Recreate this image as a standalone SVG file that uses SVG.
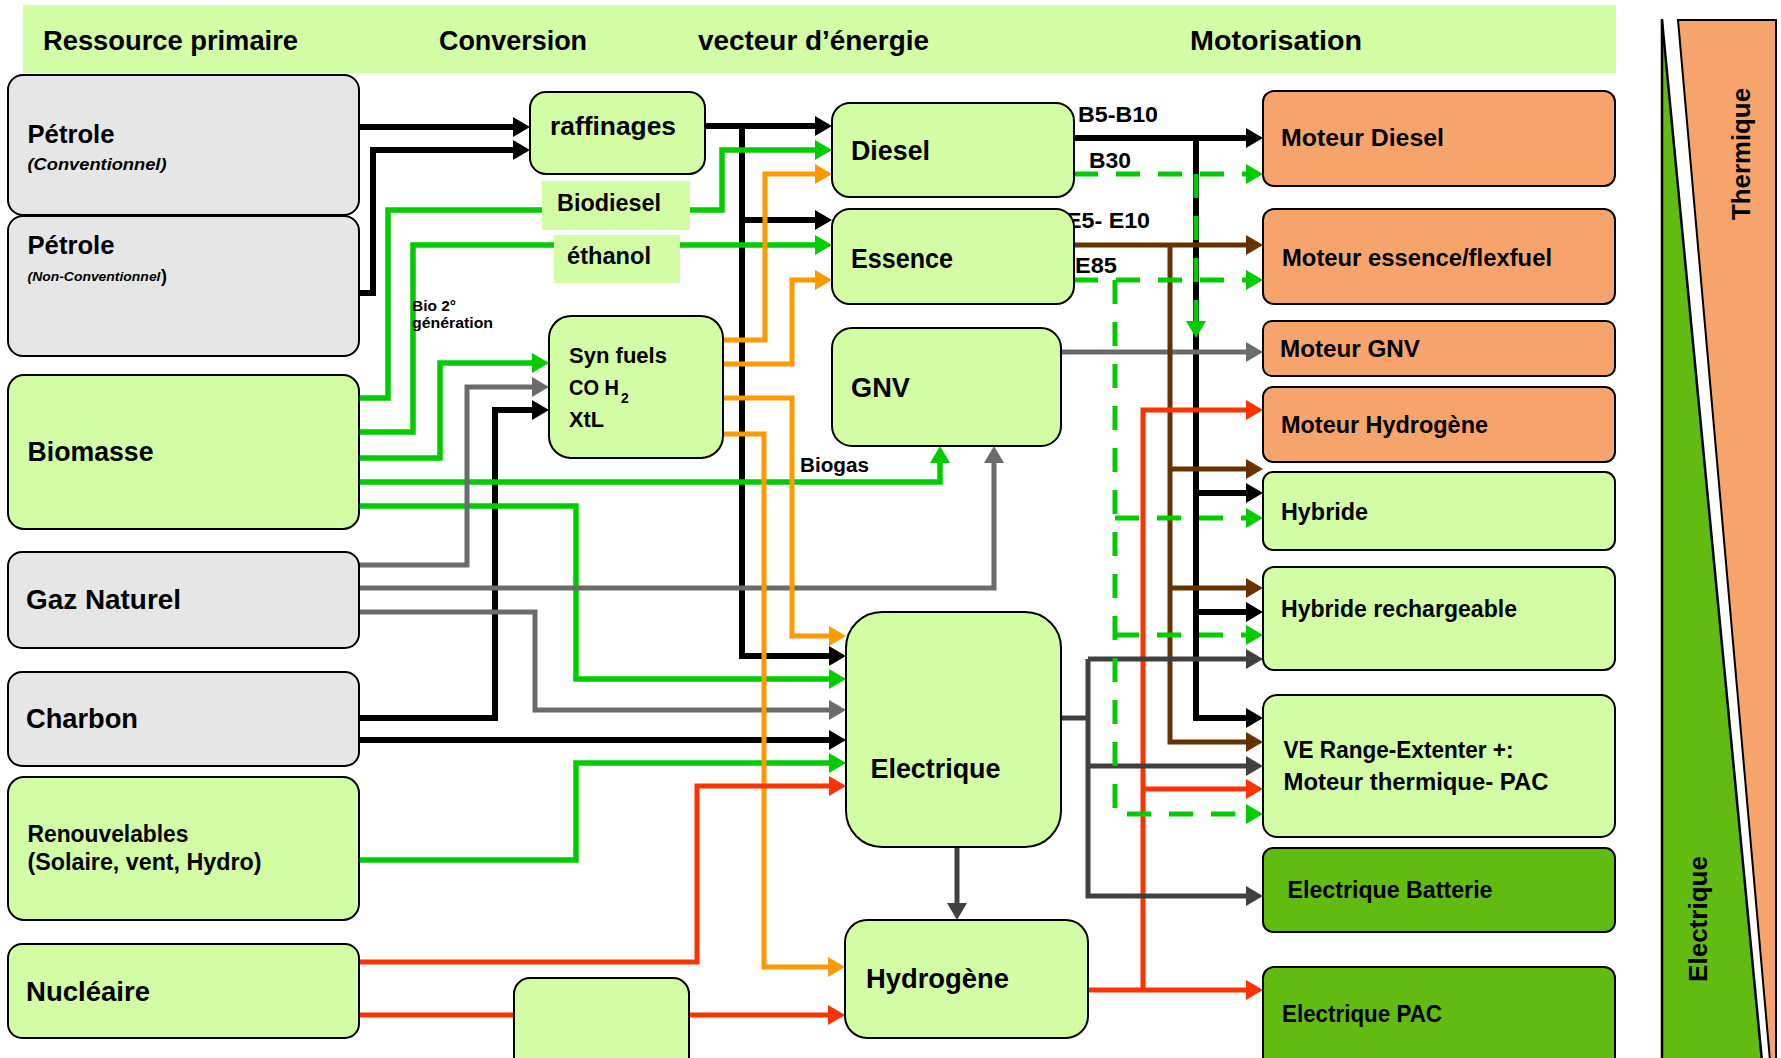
<svg xmlns="http://www.w3.org/2000/svg" width="1781" height="1058" viewBox="0 0 1781 1058">
<style>
  text { font-family: "Liberation Sans", Arial, sans-serif; font-weight: bold; fill: #000; }
  .box { stroke: #000; stroke-width: 2; }
  .lg { fill: #d2fda4; }
  .gr { fill: #e6e6e6; }
  .or { fill: #f7a36c; }
  .dg { fill: #62bb11; }
  .c path { fill: none; stroke-linejoin: miter; stroke-linecap: butt; }
  .k { stroke: #000; stroke-width: 6; }
  .g { stroke: #00cc00; stroke-width: 5.5; }
  .gd { stroke: #00cc00; stroke-width: 5; stroke-dasharray: 24 18; }
  .o { stroke: #ff9900; stroke-width: 5; }
  .r { stroke: #ff3300; stroke-width: 5; }
  .y { stroke: #6b6b6b; stroke-width: 5; }
  .d { stroke: #404040; stroke-width: 5; }
  .b { stroke: #663300; stroke-width: 5; }
  .h { font-size: 28px; }
  .l { font-size: 27px; }
  .m { font-size: 23px; }
  .s { font-size: 22px; }
</style>
<defs>
  <marker id="ak" markerUnits="userSpaceOnUse" markerWidth="17" markerHeight="20" viewBox="0 0 17 20" refX="9" refY="10" orient="auto"><path d="M0,0 L17,10 L0,20 Z" fill="#000"/></marker>
  <marker id="ag" markerUnits="userSpaceOnUse" markerWidth="17" markerHeight="20" viewBox="0 0 17 20" refX="9" refY="10" orient="auto"><path d="M0,0 L17,10 L0,20 Z" fill="#00cc00"/></marker>
  <marker id="ao" markerUnits="userSpaceOnUse" markerWidth="17" markerHeight="20" viewBox="0 0 17 20" refX="9" refY="10" orient="auto"><path d="M0,0 L17,10 L0,20 Z" fill="#ff9900"/></marker>
  <marker id="ar" markerUnits="userSpaceOnUse" markerWidth="17" markerHeight="20" viewBox="0 0 17 20" refX="9" refY="10" orient="auto"><path d="M0,0 L17,10 L0,20 Z" fill="#ff3300"/></marker>
  <marker id="ay" markerUnits="userSpaceOnUse" markerWidth="17" markerHeight="20" viewBox="0 0 17 20" refX="9" refY="10" orient="auto"><path d="M0,0 L17,10 L0,20 Z" fill="#6b6b6b"/></marker>
  <marker id="ad" markerUnits="userSpaceOnUse" markerWidth="17" markerHeight="20" viewBox="0 0 17 20" refX="9" refY="10" orient="auto"><path d="M0,0 L17,10 L0,20 Z" fill="#404040"/></marker>
  <marker id="ab" markerUnits="userSpaceOnUse" markerWidth="17" markerHeight="20" viewBox="0 0 17 20" refX="9" refY="10" orient="auto"><path d="M0,0 L17,10 L0,20 Z" fill="#663300"/></marker>
</defs>
<rect width="1781" height="1058" fill="#fff"/>

<g id="header">
  <rect x="23" y="5" width="1593" height="68" fill="#d2fda4"/>
  <text class="h" x="43" y="50" textLength="255" lengthAdjust="spacingAndGlyphs">Ressource primaire</text>
  <text class="h" x="439" y="50" textLength="148" lengthAdjust="spacingAndGlyphs">Conversion</text>
  <text class="h" x="698" y="50" textLength="231" lengthAdjust="spacingAndGlyphs">vecteur d’énergie</text>
  <text class="h" x="1190" y="50" textLength="172" lengthAdjust="spacingAndGlyphs">Motorisation</text>
</g>

<g id="connectors" class="c">
  <g class="k" marker-end="url(#ak)">
    <path d="M359,127 H522"/>
    <path d="M359,293 H373 V150 H522"/>
    <path d="M705,126 H824"/>
    <path d="M742,126 V656 H838"/>
    <path d="M742,220 H824"/>
    <path d="M359,718 H495 V410 H541"/>
    <path d="M359,740 H838"/>
    <path d="M1074,138 H1255"/>
    <path d="M1196,138 V718 H1255"/>
    <path d="M1196,493 H1255"/>
    <path d="M1196,612 H1255"/>
  </g>
  <g class="g" marker-end="url(#ag)">
    <path d="M359,398 H388 V210 H722 V150 H824"/>
    <path d="M359,432 H413 V245 H824"/>
    <path d="M359,458 H440 V363 H541"/>
    <path d="M359,482 H940 V454"/>
    <path d="M359,506 H576 V679 H838"/>
    <path d="M359,860 H576 V763 H838"/>
  </g>
  <g class="y" marker-end="url(#ay)">
    <path d="M359,565 H467 V387 H541"/>
    <path d="M359,588 H994 V454"/>
    <path d="M359,612 H535 V710 H838"/>
    <path d="M1061,352 H1255"/>
  </g>
  <g class="o" marker-end="url(#ao)">
    <path d="M723,340 H765 V174 H824"/>
    <path d="M723,364 H792 V280 H824"/>
    <path d="M723,398 H792 V636 H838"/>
    <path d="M723,434 H764 V967 H837"/>
  </g>
  <g class="b" marker-end="url(#ab)">
    <path d="M1074,245 H1255"/>
    <path d="M1170,245 V742 H1255"/>
    <path d="M1170,469 H1255"/>
    <path d="M1170,588 H1255"/>
  </g>
  <g class="r" marker-end="url(#ar)">
    <path d="M359,962 H697 V786 H838"/>
    <path d="M359,1015 H516" marker-end="none"/>
    <path d="M689,1015 H837"/>
    <path d="M1088,990 H1255"/>
    <path d="M1143,990 V410 H1255"/>
    <path d="M1143,789 H1255"/>
  </g>
  <g class="d" marker-end="url(#ad)">
    <path d="M957,847 V912"/>
    <path d="M1061,718 H1088" marker-end="none"/>
    <path d="M1088,659 H1255"/>
    <path d="M1088,659 V896 H1255"/>
    <path d="M1088,766 H1255"/>
  </g>
  <g class="gd" marker-end="url(#ag)">
    <path d="M1074,174 H1255"/>
    <path d="M1196,174 V330"/>
    <path d="M1074,280 H1255"/>
    <path d="M1115,280 V814 H1255"/>
    <path d="M1115,518 H1255"/>
    <path d="M1115,635 H1255"/>
  </g>
</g>

<g id="labels-connectors">
  <text x="1078" y="122" font-size="22" textLength="80" lengthAdjust="spacingAndGlyphs">B5-B10</text>
  <text x="1089" y="168" font-size="22" textLength="42" lengthAdjust="spacingAndGlyphs">B30</text>
  <text x="1066" y="228" font-size="22" textLength="84" lengthAdjust="spacingAndGlyphs">E5- E10</text>
  <text x="1075" y="273" font-size="22" textLength="42" lengthAdjust="spacingAndGlyphs">E85</text>
  <text x="800" y="472" font-size="20" textLength="69" lengthAdjust="spacingAndGlyphs">Biogas</text>
  <text x="412" y="311" font-size="15" textLength="44" lengthAdjust="spacingAndGlyphs">Bio 2°</text>
  <text x="412" y="328" font-size="15" textLength="81" lengthAdjust="spacingAndGlyphs">génération</text>
</g>

<g id="n-petrole-conv">
  <rect class="box gr" x="8" y="75" width="351" height="140" rx="15"/>
  <text x="27.5" y="143" font-size="25" textLength="87" lengthAdjust="spacingAndGlyphs">Pétrole</text>
  <text x="27.5" y="170" font-size="17" font-style="italic" textLength="139" lengthAdjust="spacingAndGlyphs">(Conventionnel)</text>
</g>
<g id="n-petrole-nonconv">
  <rect class="box gr" x="8" y="216" width="351" height="140" rx="15"/>
  <text x="27.5" y="254" font-size="25" textLength="87" lengthAdjust="spacingAndGlyphs">Pétrole</text>
  <text x="27.5" y="281" font-size="13" font-style="italic" textLength="133" lengthAdjust="spacingAndGlyphs">(Non-Conventionnel</text>
  <text x="161" y="282" font-size="18">)</text>
</g>
<g id="n-biomasse">
  <rect class="box lg" x="8" y="375" width="351" height="154" rx="16"/>
  <text class="l" x="27.5" y="461" textLength="126" lengthAdjust="spacingAndGlyphs">Biomasse</text>
</g>
<g id="n-gaz">
  <rect class="box gr" x="8" y="552" width="351" height="96" rx="14"/>
  <text class="l" x="26" y="609" textLength="155" lengthAdjust="spacingAndGlyphs">Gaz Naturel</text>
</g>
<g id="n-charbon">
  <rect class="box gr" x="8" y="672" width="351" height="94" rx="14"/>
  <text class="l" x="26" y="728" textLength="112" lengthAdjust="spacingAndGlyphs">Charbon</text>
</g>
<g id="n-renouvelables">
  <rect class="box lg" x="8" y="777" width="351" height="143" rx="16"/>
  <text class="m" x="27.5" y="842" textLength="161" lengthAdjust="spacingAndGlyphs">Renouvelables</text>
  <text class="m" x="27.5" y="870" textLength="234" lengthAdjust="spacingAndGlyphs">(Solaire, vent, Hydro)</text>
</g>
<g id="n-nucleaire">
  <rect class="box lg" x="8" y="944" width="351" height="94" rx="14"/>
  <text class="l" x="26" y="1001" textLength="124" lengthAdjust="spacingAndGlyphs">Nucléaire</text>
</g>

<g id="n-raffinages">
  <rect class="box lg" x="530" y="92" width="175" height="82" rx="16"/>
  <text x="550" y="135" font-size="26" textLength="126" lengthAdjust="spacingAndGlyphs">raffinages</text>
</g>
<g id="n-biodiesel">
  <rect x="542" y="181" width="148" height="49" fill="#d2fda4"/>
  <text x="557" y="211" font-size="24" textLength="104" lengthAdjust="spacingAndGlyphs">Biodiesel</text>
</g>
<g id="n-ethanol">
  <rect x="554" y="235" width="126" height="48" fill="#d2fda4"/>
  <text x="567" y="264" font-size="24" textLength="84" lengthAdjust="spacingAndGlyphs">éthanol</text>
</g>
<g id="n-synfuels">
  <rect class="box lg" x="549" y="316" width="174" height="142" rx="22"/>
  <text class="s" x="569" y="363" textLength="98" lengthAdjust="spacingAndGlyphs">Syn fuels</text>
  <text class="s" x="569" y="395" textLength="50" lengthAdjust="spacingAndGlyphs">CO H</text>
  <text x="621" y="403" font-size="14">2</text>
  <text class="s" x="569" y="427" textLength="35" lengthAdjust="spacingAndGlyphs">XtL</text>
</g>
<g id="n-small">
  <rect class="box lg" x="514" y="978" width="175" height="100" rx="16"/>
</g>

<g id="n-diesel">
  <rect class="box lg" x="832" y="103" width="242" height="94" rx="18"/>
  <text class="l" x="851" y="160" textLength="79" lengthAdjust="spacingAndGlyphs">Diesel</text>
</g>
<g id="n-essence">
  <rect class="box lg" x="832" y="209" width="242" height="95" rx="18"/>
  <text class="l" x="851" y="268" textLength="102" lengthAdjust="spacingAndGlyphs">Essence</text>
</g>
<g id="n-gnv">
  <rect class="box lg" x="832" y="328" width="229" height="118" rx="20"/>
  <text class="l" x="851" y="397" textLength="59" lengthAdjust="spacingAndGlyphs">GNV</text>
</g>
<g id="n-electrique">
  <rect class="box lg" x="846" y="612" width="215" height="235" rx="36"/>
  <text class="l" x="870.5" y="778" textLength="130" lengthAdjust="spacingAndGlyphs">Electrique</text>
</g>
<g id="n-hydrogene">
  <rect class="box lg" x="845" y="920" width="243" height="118" rx="22"/>
  <text class="l" x="866" y="988" textLength="143" lengthAdjust="spacingAndGlyphs">Hydrogène</text>
</g>

<g id="n-moteur-diesel">
  <rect class="box or" x="1263" y="91" width="352" height="95" rx="11"/>
  <text class="m" x="1281" y="146" textLength="163" lengthAdjust="spacingAndGlyphs">Moteur  Diesel</text>
</g>
<g id="n-moteur-essence">
  <rect class="box or" x="1263" y="209" width="352" height="95" rx="11"/>
  <text class="m" x="1282" y="266" textLength="270" lengthAdjust="spacingAndGlyphs">Moteur essence/flexfuel</text>
</g>
<g id="n-moteur-gnv">
  <rect class="box or" x="1263" y="321" width="352" height="55" rx="9"/>
  <text class="m" x="1280" y="357" textLength="140" lengthAdjust="spacingAndGlyphs">Moteur GNV</text>
</g>
<g id="n-moteur-hydrogene">
  <rect class="box or" x="1263" y="387" width="352" height="75" rx="10"/>
  <text class="m" x="1281" y="433" textLength="207" lengthAdjust="spacingAndGlyphs">Moteur Hydrogène</text>
</g>
<g id="n-hybride">
  <rect class="box lg" x="1263" y="472" width="352" height="78" rx="10"/>
  <text class="m" x="1281" y="520" textLength="87" lengthAdjust="spacingAndGlyphs">Hybride</text>
</g>
<g id="n-hybride-rech">
  <rect class="box lg" x="1263" y="567" width="352" height="103" rx="11"/>
  <text class="m" x="1281" y="617" textLength="236" lengthAdjust="spacingAndGlyphs">Hybride rechargeable</text>
</g>
<g id="n-ve-range">
  <rect class="box lg" x="1263" y="695" width="352" height="142" rx="14"/>
  <text class="m" x="1283.5" y="758" textLength="230" lengthAdjust="spacingAndGlyphs">VE Range-Extenter +:</text>
  <text class="m" x="1283.5" y="790" textLength="265" lengthAdjust="spacingAndGlyphs">Moteur thermique- PAC</text>
</g>
<g id="n-elec-batterie">
  <rect class="box dg" x="1263" y="848" width="352" height="84" rx="10"/>
  <text class="m" x="1287.5" y="898" textLength="205" lengthAdjust="spacingAndGlyphs">Electrique Batterie</text>
</g>
<g id="n-elec-pac">
  <rect class="box dg" x="1263" y="967" width="352" height="105" rx="11"/>
  <text class="m" x="1282" y="1022" textLength="160" lengthAdjust="spacingAndGlyphs">Electrique PAC</text>
</g>

<g id="scale-bar">
  <polygon points="1662,20 1763,1072 1662,1072" fill="#62bb11"/>
  <polygon points="1678,20 1776,20 1776,1072 1771,1072" fill="#f7a36c" stroke="#000" stroke-width="2"/>
  <line x1="1662" y1="19" x2="1662" y2="1060" stroke="#000" stroke-width="2.5"/>
  <line x1="1662" y1="20" x2="1763" y2="1072" stroke="#000" stroke-width="2.5"/>
  <text transform="translate(1750,154) rotate(-90)" text-anchor="middle" font-size="26" textLength="132" lengthAdjust="spacingAndGlyphs">Thermique</text>
  <text transform="translate(1707,919) rotate(-90)" text-anchor="middle" font-size="26" textLength="126" lengthAdjust="spacingAndGlyphs">Electrique</text>
</g>
</svg>
